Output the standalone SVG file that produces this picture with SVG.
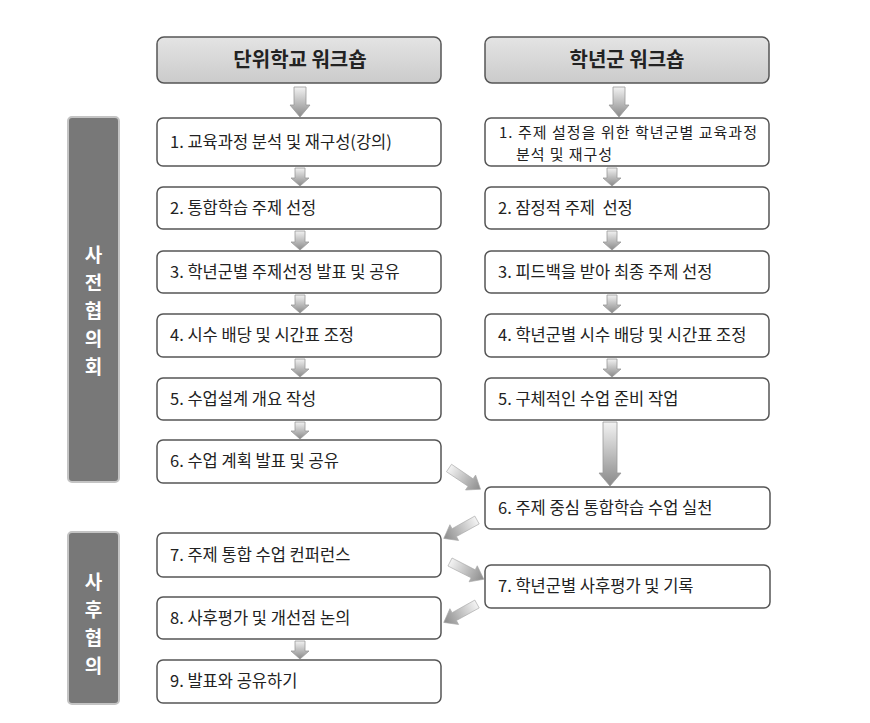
<svg xmlns="http://www.w3.org/2000/svg" width="870" height="723" viewBox="0 0 870 723">
<defs>
<linearGradient id="hdr" x1="0" y1="0" x2="0" y2="1"><stop offset="0" stop-color="#e4e4e4"/><stop offset="1" stop-color="#cbcbcb"/></linearGradient>
<linearGradient id="dn" x1="0" y1="0" x2="0" y2="1"><stop offset="0" stop-color="#f2f2f2"/><stop offset="1" stop-color="#8a8a8a"/></linearGradient>
<linearGradient id="dg" gradientUnits="userSpaceOnUse" x1="0" y1="0" x2="40" y2="0"><stop offset="0" stop-color="#f4f4f4"/><stop offset="1" stop-color="#858585"/></linearGradient>
<polygon id="da" points="0,-4.5 26,-4.5 26,-9 38,0 26,9 26,4.5 0,4.5" fill="url(#dg)" stroke="#a8a8a8" stroke-width="0.6"/>
</defs>
<style>
.box{fill:#fff;stroke:#555;stroke-width:1.5}
.hbox{fill:url(#hdr);stroke:#555;stroke-width:1.5}
.side{fill:#787878;stroke:#c4c4c4;stroke-width:2}
.t{font-family:"Noto Sans CJK KR","Noto Sans",sans-serif;font-size:16.5px;fill:#222}
.t2{font-family:"Noto Sans CJK KR","Noto Sans",sans-serif;font-size:15px;fill:#222}
.h{font-family:"Noto Sans CJK KR","Noto Sans",sans-serif;font-size:20px;font-weight:bold;fill:#222;text-anchor:middle}
.s{font-family:"Noto Sans CJK KR","Noto Sans",sans-serif;font-size:19px;font-weight:bold;fill:#fff;text-anchor:middle}
.ar{fill:url(#dn);stroke:#999;stroke-width:0.8}
</style>
<rect width="870" height="723" fill="#fff"/>

<g id="side-pre">
<rect class="side" x="68" y="117" width="51" height="365" rx="4"/>
<text class="s"><tspan x="93.5" y="262">사</tspan><tspan x="93.5" y="290">전</tspan><tspan x="93.5" y="318">협</tspan><tspan x="93.5" y="346">의</tspan><tspan x="93.5" y="374">회</tspan></text>
</g>
<g id="side-post">
<rect class="side" x="68" y="532" width="51" height="172" rx="4"/>
<text class="s"><tspan x="93.5" y="589">사</tspan><tspan x="93.5" y="617">후</tspan><tspan x="93.5" y="645">협</tspan><tspan x="93.5" y="673">의</tspan></text>
</g>

<g id="hdr-left"><rect class="hbox" x="157" y="37" width="284" height="46" rx="7"/><text class="h" x="300" y="67">단위학교 워크숍</text></g>
<g id="hdr-right"><rect class="hbox" x="485" y="37" width="284" height="46" rx="7"/><text class="h" x="627" y="67">학년군 워크숍</text></g>

<g id="L1"><rect class="box" x="157" y="118" width="284" height="48" rx="6"/><text class="t" x="170" y="148">1. 교육과정 분석 및 재구성(강의)</text></g>
<g id="L2"><rect class="box" x="157" y="187" width="284" height="42" rx="6"/><text class="t" x="170" y="214">2. 통합학습 주제 선정</text></g>
<g id="L3"><rect class="box" x="157" y="251" width="284" height="42" rx="6"/><text class="t" x="170" y="278">3. 학년군별 주제선정 발표 및 공유</text></g>
<g id="L4"><rect class="box" x="157" y="314" width="284" height="43" rx="6"/><text class="t" x="170" y="341">4. 시수 배당 및 시간표 조정</text></g>
<g id="L5"><rect class="box" x="157" y="378" width="284" height="42" rx="6"/><text class="t" x="170" y="405">5. 수업설계 개요 작성</text></g>
<g id="L6"><rect class="box" x="157" y="440" width="284" height="43" rx="6"/><text class="t" x="170" y="467">6. 수업 계획 발표 및 공유</text></g>
<g id="L7"><rect class="box" x="157" y="533" width="284" height="44" rx="6"/><text class="t" x="170" y="561">7. 주제 통합 수업 컨퍼런스</text></g>
<g id="L8"><rect class="box" x="157" y="597" width="284" height="42" rx="6"/><text class="t" x="170" y="624">8. 사후평가 및 개선점 논의</text></g>
<g id="L9"><rect class="box" x="157" y="660" width="284" height="43" rx="6"/><text class="t" x="170" y="687">9. 발표와 공유하기</text></g>

<g id="R1"><rect class="box" x="485" y="118" width="284" height="48" rx="6"/><text class="t2" x="499" y="138" textLength="258" lengthAdjust="spacing">1. 주제 설정을 위한 학년군별 교육과정</text><text class="t2" x="516" y="160" textLength="96" lengthAdjust="spacing">분석 및 재구성</text></g>
<g id="R2"><rect class="box" x="485" y="187" width="284" height="42" rx="6"/><text class="t" x="498" y="214" xml:space="preserve">2. 잠정적 주제  선정</text></g>
<g id="R3"><rect class="box" x="485" y="251" width="284" height="42" rx="6"/><text class="t" x="498" y="278">3. 피드백을 받아 최종 주제 선정</text></g>
<g id="R4"><rect class="box" x="485" y="314" width="284" height="43" rx="6"/><text class="t" x="498" y="341">4. 학년군별 시수 배당 및 시간표 조정</text></g>
<g id="R5"><rect class="box" x="485" y="378" width="284" height="42" rx="6"/><text class="t" x="498" y="405">5. 구체적인 수업 준비 작업</text></g>
<g id="R6"><rect class="box" x="485" y="487" width="285" height="42" rx="6"/><text class="t" x="498" y="514">6. 주제 중심 통합학습 수업 실천</text></g>
<g id="R7"><rect class="box" x="485" y="565" width="285" height="43" rx="6"/><text class="t" x="498" y="592">7. 학년군별 사후평가 및 기록</text></g>

<g id="connectors">
<polygon class="ar" points="294,87 306,87 306,105 310,105 300,117 290,105 294,105"/>
<polygon class="ar" points="613,87 625,87 625,105 629,105 619,117 609,105 613,105"/>
<polygon class="ar" points="295,168 305,168 305,178 309,178 300,186 291,178 295,178"/>
<polygon class="ar" points="295,231 305,231 305,242 309,242 300,250 291,242 295,242"/>
<polygon class="ar" points="295,295 305,295 305,305 309,305 300,313 291,305 295,305"/>
<polygon class="ar" points="295,359 305,359 305,369 309,369 300,377 291,369 295,369"/>
<polygon class="ar" points="295,422 305,422 305,431 309,431 300,439 291,431 295,431"/>
<polygon class="ar" points="295,641 305,641 305,651 309,651 300,659 291,651 295,651"/>
<polygon class="ar" points="607,168 617,168 617,178 621,178 612,186 603,178 607,178"/>
<polygon class="ar" points="607,231 617,231 617,242 621,242 612,250 603,242 607,242"/>
<polygon class="ar" points="607,295 617,295 617,305 621,305 612,313 603,305 607,305"/>
<polygon class="ar" points="607,359 617,359 617,369 621,369 612,377 603,369 607,369"/>
<polygon class="ar" points="603,422 617,422 617,473 621,473 610,486 599,473 603,473"/>
<use href="#da" transform="translate(449,468) rotate(34)"/>
<use href="#da" transform="translate(477,520) rotate(151)"/>
<use href="#da" transform="translate(450,562) rotate(27)"/>
<use href="#da" transform="translate(477,604) rotate(151)"/>
</g>
</svg>
